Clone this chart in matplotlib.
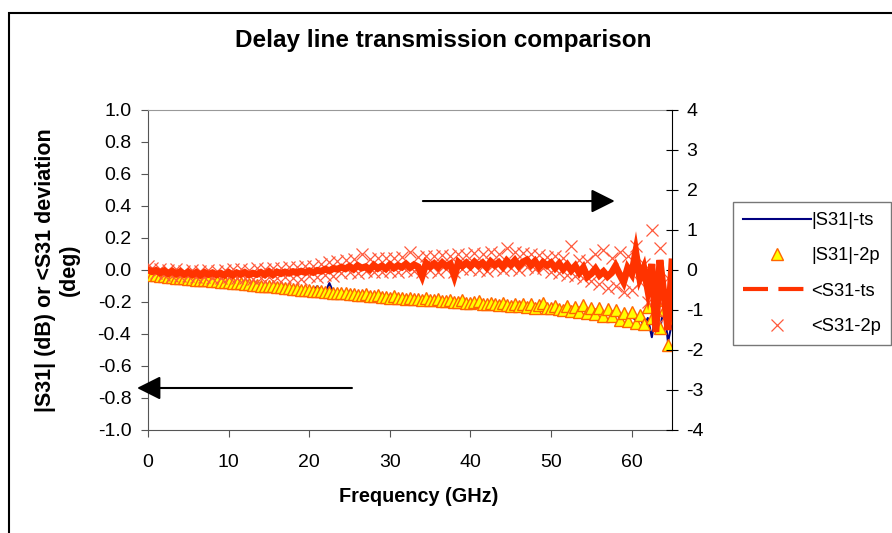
import matplotlib
matplotlib.use('Agg')
import matplotlib.pyplot as plt
from matplotlib.lines import Line2D
from matplotlib.patches import Rectangle


# Frequency points (GHz)
freq_ghz = [
    0.0, 0.5, 1.0, 1.5, 2.0, 2.5, 3.0, 3.5, 4.0, 4.5,
    5.0, 5.5, 6.0, 6.5, 7.0, 7.5, 8.0, 8.5, 9.0, 9.5,
    10.0, 10.5, 11.0, 11.5, 12.0, 12.5, 13.0, 13.5, 14.0, 14.5,
    15.0, 15.5, 16.0, 16.5, 17.0, 17.5, 18.0, 18.5, 19.0, 19.5,
    20.0, 20.5, 21.0, 21.5, 22.0, 22.5, 23.0, 23.5, 24.0, 24.5,
    25.0, 25.5, 26.0, 26.5, 27.0, 27.5, 28.0, 28.5, 29.0, 29.5,
    30.0, 30.5, 31.0, 31.5, 32.0, 32.5, 33.0, 33.5, 34.0, 34.5,
    35.0, 35.5, 36.0, 36.5, 37.0, 37.5, 38.0, 38.5, 39.0, 39.5,
    40.0, 40.5, 41.0, 41.5, 42.0, 42.5, 43.0, 43.5, 44.0, 44.5,
    45.0, 45.5, 46.0, 46.5, 47.0, 47.5, 48.0, 48.5, 49.0, 49.5,
    50.0, 50.5, 51.0, 51.5, 52.0, 52.5, 53.0, 53.5, 54.0, 54.5,
    55.0, 55.5, 56.0, 56.5, 57.0, 57.5, 58.0, 58.5, 59.0, 59.5,
    60.0, 60.5, 61.0, 61.5, 62.0, 62.5, 63.0, 63.5, 64.0, 64.5,
    65.0,
]

# |S31| touchstone (dB)
mag_ts = [
    -0.028, -0.031, -0.034, -0.036, -0.040, -0.042, -0.044, -0.047, -0.049, -0.052,
    -0.054, -0.056, -0.059, -0.061, -0.063, -0.066, -0.068, -0.070, -0.073, -0.075,
    -0.077, -0.080, -0.082, -0.084, -0.087, -0.089, -0.091, -0.094, -0.096, -0.098,
    -0.101, -0.103, -0.106, -0.108, -0.111, -0.113, -0.116, -0.118, -0.121, -0.124,
    -0.127, -0.130, -0.101, -0.134, -0.137, -0.082, -0.140, -0.142, -0.145, -0.147,
    -0.152, -0.149, -0.155, -0.158, -0.156, -0.160, -0.163, -0.161, -0.166, -0.168,
    -0.171, -0.169, -0.174, -0.176, -0.179, -0.177, -0.182, -0.184, -0.186, -0.183,
    -0.189, -0.191, -0.188, -0.194, -0.196, -0.193, -0.199, -0.201, -0.198, -0.203,
    -0.206, -0.204, -0.190, -0.209, -0.212, -0.210, -0.214, -0.217, -0.215, -0.219,
    -0.222, -0.218, -0.225, -0.221, -0.228, -0.224, -0.231, -0.227, -0.203, -0.233,
    -0.236, -0.232, -0.239, -0.245, -0.238, -0.252, -0.243, -0.250, -0.241, -0.255,
    -0.247, -0.262, -0.251, -0.270, -0.258, -0.285, -0.262, -0.300, -0.275, -0.310,
    -0.282, -0.318, -0.290, -0.350, -0.300, -0.420, -0.270, -0.380, -0.220, -0.450,
    -0.330,
]

# |S31| two-port (dB)
mag_2p = [
    -0.020, -0.030, -0.033, -0.038, -0.039, -0.044, -0.043, -0.048, -0.050, -0.051,
    -0.055, -0.055, -0.060, -0.060, -0.064, -0.065, -0.069, -0.069, -0.074, -0.074,
    -0.078, -0.079, -0.083, -0.083, -0.088, -0.088, -0.092, -0.093, -0.097, -0.097,
    -0.102, -0.102, -0.107, -0.107, -0.112, -0.112, -0.117, -0.117, -0.122, -0.123,
    -0.128, -0.129, -0.131, -0.133, -0.138, -0.136, -0.141, -0.141, -0.146, -0.146,
    -0.153, -0.147, -0.156, -0.157, -0.150, -0.161, -0.164, -0.158, -0.167, -0.167,
    -0.172, -0.165, -0.175, -0.175, -0.180, -0.172, -0.183, -0.183, -0.187, -0.178,
    -0.190, -0.190, -0.182, -0.195, -0.195, -0.187, -0.200, -0.200, -0.190, -0.204,
    -0.207, -0.200, -0.196, -0.210, -0.213, -0.205, -0.215, -0.218, -0.208, -0.220,
    -0.223, -0.210, -0.228, -0.214, -0.232, -0.215, -0.236, -0.218, -0.205, -0.240,
    -0.238, -0.222, -0.245, -0.250, -0.226, -0.258, -0.232, -0.262, -0.220, -0.270,
    -0.235, -0.275, -0.240, -0.285, -0.245, -0.290, -0.250, -0.310, -0.270, -0.320,
    -0.260, -0.330, -0.280, -0.340, -0.230, -0.300, -0.190, -0.360, -0.250, -0.470,
    -0.300,
]

# <S31 deviation touchstone (deg)
phase_ts = [
    0.00, -0.04, -0.01, -0.07, -0.02, -0.09, -0.03, -0.10, -0.04, -0.11,
    -0.05, -0.12, -0.06, -0.13, -0.06, -0.11, -0.07, -0.12, -0.08, -0.13,
    -0.06, -0.13, -0.07, -0.11, -0.06, -0.12, -0.08, -0.11, -0.06, -0.12,
    -0.04, -0.12, -0.05, -0.09, -0.05, -0.08, -0.04, -0.07, -0.03, -0.06,
    -0.02, -0.06, -0.01, -0.03, 0.02, -0.02, 0.04, 0.02, 0.07, 0.03,
    0.09, 0.02, 0.11, 0.05, 0.08, 0.01, 0.12, 0.04, 0.10, 0.03,
    0.13, 0.05, 0.11, 0.07, 0.15, 0.06, 0.13, 0.08, -0.15, 0.17,
    0.08, 0.16, 0.07, 0.18, 0.09, 0.15, -0.15, 0.19, 0.10, 0.18,
    0.09, 0.20, 0.11, 0.18, 0.07, 0.21, 0.12, 0.19, 0.08, 0.23,
    0.13, 0.24, 0.10, 0.20, 0.25, 0.12, 0.22, 0.07, 0.19, 0.11,
    0.18, 0.05, 0.16, 0.02, 0.13, -0.01, 0.10, -0.07, 0.06, -0.17,
    -0.09, 0.03, -0.13, -0.04, -0.16, -0.07, 0.10, -0.11, -0.30, 0.05,
    -0.10, 0.45, -0.20, 0.05, -0.50, 0.15, -1.55, 0.25, -0.60, -1.50,
    0.20,
]

# <S31 deviation two-port (deg)
phase_2p = [
    0.10, 0.05, -0.08, 0.02, -0.12, 0.00, -0.14, 0.03, -0.15, -0.02,
    -0.16, 0.00, -0.18, -0.02, -0.17, 0.01, -0.19, -0.03, -0.20, 0.00,
    -0.18, 0.02, -0.21, 0.03, -0.19, 0.01, -0.22, 0.04, -0.20, 0.02,
    -0.17, 0.05, -0.21, 0.06, -0.18, 0.08, -0.20, 0.07, -0.23, 0.10,
    -0.16, 0.09, -0.18, 0.14, -0.12, 0.20, -0.15, 0.22, -0.08, 0.25,
    -0.05, 0.27, -0.08, 0.40, -0.02, 0.28, -0.06, 0.30, -0.04, 0.29,
    -0.02, 0.31, -0.05, 0.33, 0.00, 0.45, -0.03, 0.32, -0.06, 0.34,
    0.00, 0.36, -0.04, 0.38, 0.02, 0.35, -0.05, 0.40, 0.03, 0.37,
    0.02, 0.42, 0.00, 0.39, -0.03, 0.44, 0.05, 0.41, 0.01, 0.55,
    0.04, 0.45, 0.00, 0.43, 0.08, 0.40, 0.02, 0.38, 0.05, 0.33,
    -0.05, 0.35, -0.08, 0.30, -0.12, 0.60, -0.15, 0.25, -0.20, 0.22,
    -0.28, 0.40, -0.35, 0.50, -0.45, 0.30, -0.40, 0.45, -0.55, 0.35,
    -0.50, 0.60, -0.30, 0.15, -0.80, 1.00, -0.70, 0.55, -1.20, -0.20,
    -0.90,
]

left_ticks = [-1.0, -0.8, -0.6, -0.4, -0.2, 0.0, 0.2, 0.4, 0.6, 0.8, 1.0]
right_ticks = [-4, -3, -2, -1, 0, 1, 2, 3, 4]
x_ticks = [0, 10, 20, 30, 40, 50, 60]


def main():
    plt.rcParams['font.family'] = ['Liberation Sans', 'DejaVu Sans']
    plt.rcParams['axes.unicode_minus'] = False

    W, H = 892, 533
    fig = plt.figure(figsize=(W / 100, H / 100), dpi=100)

    # outer chart border (cut at right and bottom like the original)
    fig.patches.append(Rectangle((9 / W, -0.2), 1.5, 1.2 - 13 / H, transform=fig.transFigure,
                                 fill=False, edgecolor='black', lw=1.5))

    ax = fig.add_axes([148 / W, 1 - 430 / H, (672 - 148) / W, (430 - 110) / H])
    ax2 = ax.twinx()

    # magnitude on left axis
    l1, = ax.plot(freq_ghz, mag_ts, color='#000080', lw=1.5, zorder=2)
    l2, = ax.plot(freq_ghz, mag_2p, linestyle='none', marker='^', ms=8,
                  markerfacecolor='#FFFF00', markeredgecolor='#FF6600', mew=1.0, zorder=3)

    # phase on right axis
    l4, = ax2.plot(freq_ghz, phase_2p, linestyle='none', marker='x', ms=8, mew=0.9,
                   color='#FF5A3C', zorder=2)
    ax2.plot(freq_ghz, phase_ts, color='#FF3300', lw=5, solid_joinstyle='miter', zorder=3)
    # dense data hides the dash gaps in the original, so the legend keeps the dashes
    l3 = Line2D([], [], color='#FF3300', lw=3, dashes=(6, 2.5))

    ax.set_xlim(0, 65)
    ax.set_ylim(-1, 1)
    ax2.set_ylim(-4, 4)
    ax.set_xticks(x_ticks)
    ax.set_yticks(left_ticks)
    ax.set_yticklabels([f'{v:.1f}' for v in left_ticks])
    ax2.set_yticks(right_ticks)

    ax.tick_params(axis='both', labelsize=14, direction='out', length=5, color='#555555')
    ax.tick_params(axis='x', pad=12)
    ax.tick_params(axis='y', pad=7)
    ax2.tick_params(axis='y', labelsize=14, direction='inout', length=9, color='black', pad=6)

    for side in ['left', 'bottom']:
        ax.spines[side].set_color('#555555')
    ax.spines['top'].set_color('#999999')
    ax.spines['right'].set_visible(False)
    for side in ['left', 'bottom', 'top']:
        ax2.spines[side].set_visible(False)
    ax2.spines['right'].set_color('black')

    ax.set_xlabel('Frequency (GHz)', fontsize=14.3, fontweight='bold')
    ax.xaxis.set_label_coords((419 - 148) / 524, -(487 - 430) / 320)
    ax.set_ylabel('|S31| (dB) or <S31 deviation\n(deg)', fontsize=15.5, fontweight='bold')
    ax.yaxis.set_label_coords((80 - 148) / 524, 0.5)
    fig.text(443 / W, 1 - 40 / H, 'Delay line transmission comparison', ha='center',
             va='center', fontsize=17.5, fontweight='bold')

    # arrows pointing to the matching axis
    ax.annotate('', xy=(57.9, 0.431), xytext=(34.1, 0.431),
                arrowprops=dict(arrowstyle='-|>,head_length=0.4,head_width=0.2',
                                mutation_scale=36, lw=1.5, color='black',
                                shrinkA=0, shrinkB=0), annotation_clip=False)
    ax.annotate('', xy=(-1.36, -0.7375), xytext=(25.3, -0.7375),
                arrowprops=dict(arrowstyle='-|>,head_length=0.4,head_width=0.2',
                                mutation_scale=36, lw=1.5, color='black',
                                shrinkA=0, shrinkB=0), annotation_clip=False)

    leg = fig.legend([l1, l2, l3, l4], ['|S31|-ts', '|S31|-2p', '<S31-ts', '<S31-2p'],
                     loc='upper left', bbox_to_anchor=(733 / W, 1 - 202 / H),
                     borderaxespad=0, borderpad=0.55, fontsize=13.2, handlelength=3.7,
                     handletextpad=0.0, labelspacing=1.0,
                     frameon=True, fancybox=False, edgecolor='#555555')
    leg.get_frame().set_linewidth(1.0)

    fig.savefig('out.png', dpi=100)


if __name__ == "__main__":
    main()
